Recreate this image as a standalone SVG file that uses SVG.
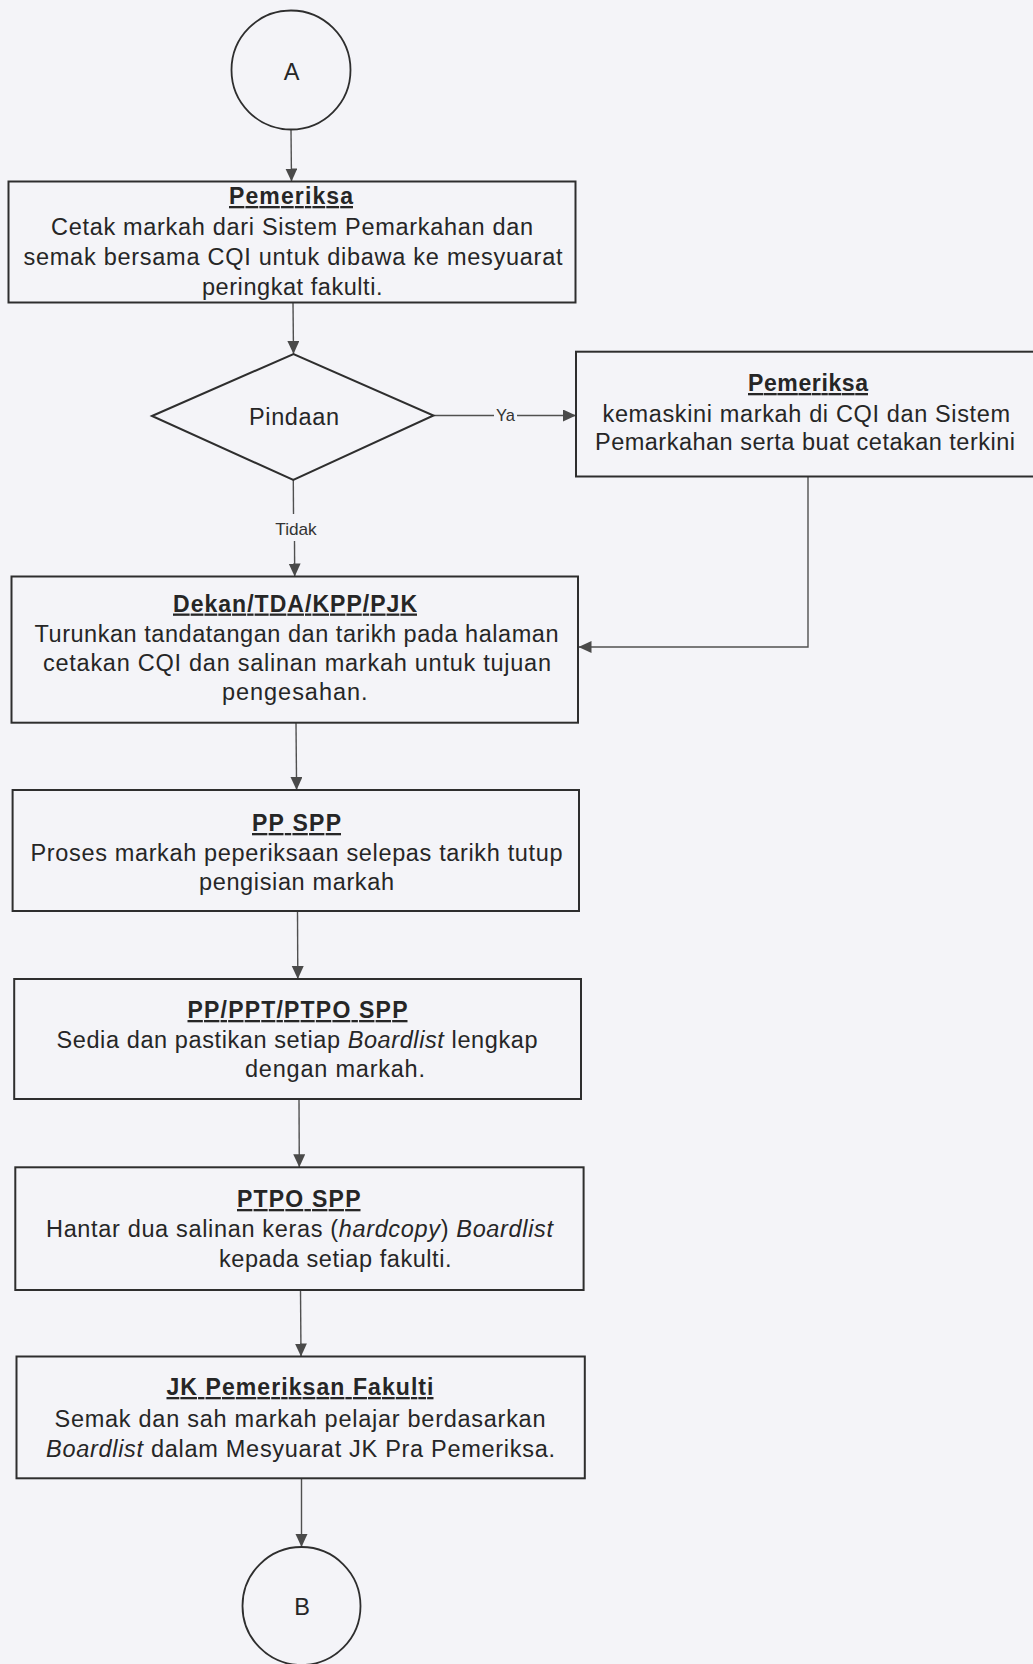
<svg xmlns="http://www.w3.org/2000/svg" width="1033" height="1664" viewBox="0 0 1033 1664">
<style>
.bg{fill:#f4f4f8}
.box{fill:none;stroke:#2e2e2e;stroke-width:2}
.term{fill:none;stroke:#2e2e2e;stroke-width:1.8}
.con{fill:none;stroke:#505050;stroke-width:1.4}
.t{font-family:"Liberation Sans",Arial,sans-serif;font-size:23.5px;fill:#262626}
.h{font-family:"Liberation Sans",Arial,sans-serif;font-size:23px;font-weight:bold;fill:#262626;text-decoration:underline}
.lbl{font-family:"Liberation Sans",Arial,sans-serif;font-size:17px;fill:#333}
.c{text-anchor:middle}
.i{font-style:italic}
</style>
<defs>
<marker id="arr" markerUnits="userSpaceOnUse" markerWidth="14" markerHeight="13" refX="13" refY="6" orient="auto">
<path d="M0,0 L13,6 L0,12 z" fill="#4a4a4a"/>
</marker>
</defs>
<rect class="bg" x="0" y="0" width="1033" height="1664"/>

<g id="connectors">
<line class="con" x1="291" y1="129.5" x2="291.5" y2="181.5" marker-end="url(#arr)"/>
<line class="con" x1="293" y1="302.6" x2="293.5" y2="354" marker-end="url(#arr)"/>
<line class="con" x1="433.5" y1="415.5" x2="494" y2="415.5"/>
<text class="lbl c" x="505.5" y="421" textLength="19" lengthAdjust="spacingAndGlyphs">Ya</text>
<line class="con" x1="517" y1="415.5" x2="576" y2="415.5" marker-end="url(#arr)"/>
<line class="con" x1="293.3" y1="480" x2="293.5" y2="514"/>
<text class="lbl c" x="296" y="535" textLength="41.5" lengthAdjust="spacingAndGlyphs">Tidak</text>
<line class="con" x1="294.5" y1="541" x2="294.7" y2="576.5" marker-end="url(#arr)"/>
<polyline class="con" points="808,476.5 808,647 578.5,647" marker-end="url(#arr)"/>
<line class="con" x1="296" y1="722.7" x2="296.6" y2="790" marker-end="url(#arr)"/>
<line class="con" x1="297.5" y1="911" x2="297.8" y2="979" marker-end="url(#arr)"/>
<line class="con" x1="299" y1="1099" x2="299.3" y2="1167.3" marker-end="url(#arr)"/>
<line class="con" x1="300.5" y1="1290" x2="301" y2="1356.5" marker-end="url(#arr)"/>
<line class="con" x1="301.5" y1="1478.3" x2="301.5" y2="1547" marker-end="url(#arr)"/>
</g>

<g id="start-A">
<circle class="term" cx="291" cy="70" r="59.5"/>
<text class="t c" x="291.5" y="80">A</text>
</g>

<g id="box-pemeriksa-1">
<rect class="box" x="8.5" y="181.5" width="567" height="121"/>
<text class="h" x="229" y="204" textLength="124" lengthAdjust="spacing">Pemeriksa</text>
<text class="t" x="51" y="235" textLength="482" lengthAdjust="spacing">Cetak markah dari Sistem Pemarkahan dan</text>
<text class="t" x="23.5" y="265" textLength="539" lengthAdjust="spacing">semak bersama CQI untuk dibawa ke mesyuarat</text>
<text class="t" x="202" y="295" textLength="180.5" lengthAdjust="spacing">peringkat fakulti.</text>
</g>

<g id="decision-pindaan">
<polygon class="box" points="152,416 293.5,354 433.5,415.5 293.3,480"/>
<text class="t" x="249" y="425" textLength="90" lengthAdjust="spacing">Pindaan</text>
</g>

<g id="box-pemeriksa-2">
<rect class="box" x="576" y="351.7" width="464" height="124.8"/>
<text class="h" x="748" y="391" textLength="120" lengthAdjust="spacing">Pemeriksa</text>
<text class="t" x="602.5" y="422" textLength="407.5" lengthAdjust="spacing">kemaskini markah di CQI dan Sistem</text>
<text class="t" x="595" y="450" textLength="420" lengthAdjust="spacing">Pemarkahan serta buat cetakan terkini</text>
</g>

<g id="box-dekan">
<rect class="box" x="11.5" y="576.5" width="566.5" height="146.2"/>
<text class="h" x="173" y="611.5" textLength="244" lengthAdjust="spacing">Dekan/TDA/KPP/PJK</text>
<text class="t" x="34.5" y="641.5" textLength="524" lengthAdjust="spacing">Turunkan tandatangan dan tarikh pada halaman</text>
<text class="t" x="43" y="671" textLength="508" lengthAdjust="spacing">cetakan CQI dan salinan markah untuk tujuan</text>
<text class="t" x="222" y="700" textLength="145.5" lengthAdjust="spacing">pengesahan.</text>
</g>

<g id="box-pp-spp">
<rect class="box" x="12.6" y="790" width="566.4" height="121"/>
<text class="h" x="252" y="831" textLength="89" lengthAdjust="spacing">PP SPP</text>
<text class="t" x="30.5" y="860.5" textLength="532" lengthAdjust="spacing">Proses markah peperiksaan selepas tarikh tutup</text>
<text class="t" x="199" y="889.5" textLength="195" lengthAdjust="spacing">pengisian markah</text>
</g>

<g id="box-pp-ppt-ptpo">
<rect class="box" x="14.2" y="979" width="566.8" height="120"/>
<text class="h" x="187.5" y="1018" textLength="220" lengthAdjust="spacing">PP/PPT/PTPO SPP</text>
<text class="t" x="56.5" y="1048" textLength="481" lengthAdjust="spacing">Sedia dan pastikan setiap <tspan class="i">Boardlist</tspan> lengkap</text>
<text class="t" x="245" y="1077" textLength="180" lengthAdjust="spacing">dengan markah.</text>
</g>

<g id="box-ptpo">
<rect class="box" x="15.3" y="1167.3" width="568.3" height="122.7"/>
<text class="h" x="237" y="1207" textLength="123.5" lengthAdjust="spacing">PTPO SPP</text>
<text class="t" x="46" y="1236.5" textLength="507" lengthAdjust="spacing">Hantar dua salinan keras (<tspan class="i">hardcopy</tspan>) <tspan class="i">Boardlist</tspan></text>
<text class="t" x="219" y="1266.5" textLength="232.5" lengthAdjust="spacing">kepada setiap fakulti.</text>
</g>

<g id="box-jk">
<rect class="box" x="16.5" y="1356.5" width="568.3" height="121.8"/>
<text class="h" x="166.5" y="1395" textLength="267" lengthAdjust="spacing">JK Pemeriksan Fakulti</text>
<text class="t" x="54.5" y="1427" textLength="491" lengthAdjust="spacing">Semak dan sah markah pelajar berdasarkan</text>
<text class="t" x="46" y="1457" textLength="509" lengthAdjust="spacing"><tspan class="i">Boardlist</tspan> dalam Mesyuarat JK Pra Pemeriksa.</text>
</g>

<g id="end-B">
<circle class="term" cx="301.5" cy="1606" r="59"/>
<text class="t c" x="302" y="1615">B</text>
</g>
</svg>
